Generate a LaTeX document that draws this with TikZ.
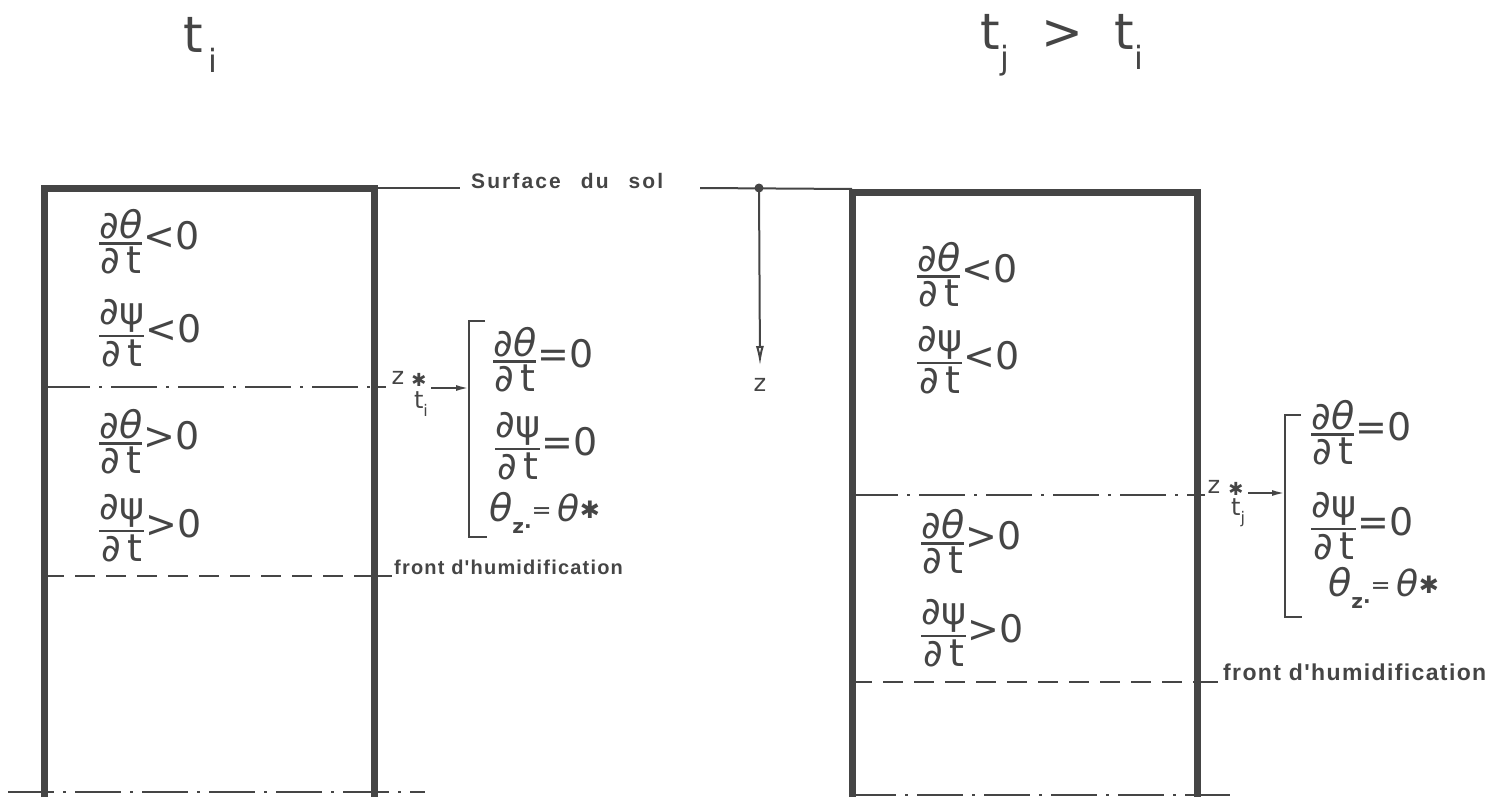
\documentclass[tikz,border=0pt]{standalone}
\usepackage{amsmath}
\usepackage{fontspec}
\setmainfont{DejaVu Sans}
\newfontfamily\labfont[LetterSpace=6]{Liberation Sans}
\newfontfamily\surffont[LetterSpace=10]{Liberation Sans}
\usetikzlibrary{arrows.meta}
\definecolor{ink}{gray}{0.27}
\newcommand\myfr[2]{\ensuremath{\genfrac{}{}{2.6pt}{}{\mbox{#1}}{\mbox{#2}}}}
\newcommand\dTh{∂\textit{θ}}
\newcommand\dPs{∂ψ}
\newcommand\dTt{∂\,t}
\newcommand\thz{\textit{θ}\raisebox{-0.3em}{\fontsize{20}{20}\selectfont\bfseries z∙}\fontsize{24}{24}\selectfont\raisebox{0.15em}{=}\fontsize{36}{36}\selectfont\,\textit{θ}\raisebox{0.1em}{\fontsize{24}{24}\selectfont\bfseries ✱}}
\begin{document}
\begin{tikzpicture}[x=1pt,y=-1pt,color=ink,
  every node/.style={inner sep=0pt,text=ink},
  wall/.style={line width=7pt,draw=ink},
  thinln/.style={line width=2pt,draw=ink},
  dashdot/.style={line width=2.5pt,draw=ink,dash pattern=on 46pt off 9pt on 3pt off 9pt},
  dashln/.style={line width=2.5pt,draw=ink,dash pattern=on 20pt off 11pt},
  eq/.style={font=\fontsize{38}{40}\selectfont,anchor=west},
  lbl/.style={font=\labfont\bfseries\fontsize{20}{22}\selectfont},
  small/.style={font=\fontsize{24}{26}\selectfont},
  head/.style={font=\fontsize{50}{52}\selectfont},
  arr/.style={thinln,-{Latex[length=13pt,width=6pt]}}]
\useasboundingbox (0,0) rectangle (1495,797);

% headings
\node[head,anchor=west] (hi) at (183,45) {t\raisebox{-0.4em}{\fontsize{32}{32}\selectfont\,i}};
\node[head] (hj) at (1062,45) {t\raisebox{-0.4em}{\fontsize{32}{32}\selectfont j}\ \ >\ \ t\raisebox{-0.4em}{\fontsize{32}{32}\selectfont i}};

% left box
\draw[wall] (44,797) -- (44,188) -- (374,188) -- (374,797);
% right box
\draw[wall] (852,797) -- (852,192) -- (1197,192) -- (1197,797);

% surface
\coordinate (sl0) at (374,188);
\coordinate (sl1) at (460,188);
\draw[thinln] (sl0) -- (sl1);
\node[font=\surffont\bfseries\fontsize{21}{22}\selectfont,anchor=west] (surf) at (471,181) {Surface\hspace{20pt}du\hspace{20pt}sol};
\coordinate (sr0) at (700,188);
\coordinate (sr1) at (852,189);
\draw[thinln] (sr0) -- (sr1);
\coordinate (dot) at (759,188);
\fill (dot) circle (4.5);
\node[small] (zax) at (760,385) {z};
\coordinate (ztip) at (760,366);
\draw[thinln,-{Latex[length=20pt,width=8pt,open]}] (dot) -- (ztip);

% left panel equations
\node[eq] (l1) at (98,242) {\myfr{\dTh}{\dTt}<0};
\node[eq] (l2) at (98,333) {\myfr{\dPs}{\dTt}<0};
\node[eq] (l3) at (98,442) {\myfr{\dTh}{\dTt}>0};
\node[eq] (l4) at (98,528) {\myfr{\dPs}{\dTt}>0};

% left z*
\draw[dashdot] (44,387) -- (374,387);
\draw[thinln] (374,387) -- (386,387);
\node[small] (zl) at (398,378) {z};
\node[font=\bfseries\fontsize{18}{18}\selectfont] (sl) at (419,380) {✱};
\node[small] (tl) at (421,404) {t\raisebox{-0.35em}{\fontsize{16}{16}\selectfont i}};
\coordinate (al) at (431,388);
\coordinate (bl) at (469,388);
\draw[arr] (al) -- (bl);
\draw[thinln] (485,321) -- (469,321) -- (469,537) -- (487,537);
\node[eq] (lb1) at (492,360) {\myfr{\dTh}{\dTt}=0};
\node[eq] (lb2) at (494,446) {\myfr{\dPs}{\dTt}=0};
\node[eq] (lb3) at (489,513) {\thz};

% left front
\draw[dashln] (44,576) -- (374,576);
\draw[thinln] (374,576) -- (392,576);
\node[lbl,anchor=base west] (fl) at (394,574) {front\ d'humidification};
\draw[dashdot] (8,792) -- (425,792);

% right panel equations
\node[eq] (r1) at (916,275) {\myfr{\dTh}{\dTt}<0};
\node[eq] (r2) at (916,360) {\myfr{\dPs}{\dTt}<0};
\node[eq] (r3) at (920,542) {\myfr{\dTh}{\dTt}>0};
\node[eq] (r4) at (920,633) {\myfr{\dPs}{\dTt}>0};

% right z*
\draw[dashdot] (852,495) -- (1197,495);
\draw[thinln] (1197,495) -- (1205,495);
\node[small] (zr) at (1214,487) {z};
\node[font=\bfseries\fontsize{18}{18}\selectfont] (sr) at (1236,489) {✱};
\node[small] (tr) at (1238,513) {t\raisebox{-0.35em}{\fontsize{16}{16}\selectfont j}};
\coordinate (ar) at (1248,493);
\coordinate (br) at (1285,493);
\draw[arr] (ar) -- (br);
\draw[thinln] (1301,415) -- (1285,415) -- (1285,617) -- (1302,617);
\node[eq] (rb1) at (1310,433) {\myfr{\dTh}{\dTt}=0};
\node[eq] (rb2) at (1310,526) {\myfr{\dPs}{\dTt}=0};
\node[eq] (rb3) at (1328,588) {\thz};

% right front
\draw[dashln] (852,682) -- (1197,682);
\draw[thinln] (1197,682) -- (1218,682);
\node[lbl,anchor=base west,font=\labfont\bfseries\fontsize{23}{24}\selectfont] (fr) at (1223,680) {front\ d'humidification};
\draw[dashdot] (850,795) -- (1230,795);
\end{tikzpicture}
\end{document}
